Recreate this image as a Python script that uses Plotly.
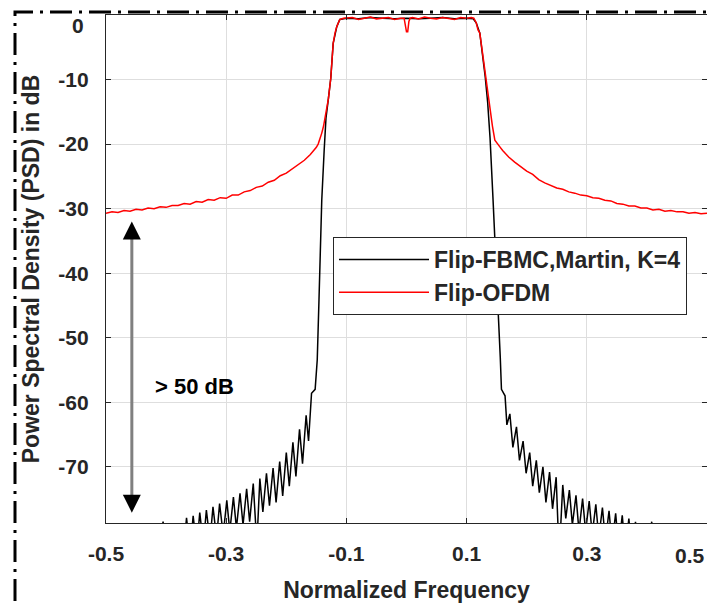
import plotly.graph_objects as go

# ---------------- data ----------------
freq_fbmc = [
    -0.50, -0.43, -0.415, -0.405, -0.398, -0.392, -0.386, -0.378, -0.372, -0.366,
    -0.360, -0.355, -0.349, -0.344, -0.338, -0.333, -0.327, -0.322, -0.316, -0.311,
    -0.305, -0.299, -0.294, -0.288, -0.283, -0.277, -0.272, -0.266, -0.261, -0.255,
    -0.249, -0.244, -0.239, -0.233, -0.228, -0.222, -0.217, -0.211, -0.206, -0.200,
    -0.195, -0.189, -0.184, -0.178, -0.173, -0.167, -0.163, -0.158, -0.152, -0.1485,
    -0.1456, -0.143, -0.141, -0.137, -0.134, -0.130, -0.126, -0.122, -0.119, -0.116,
    -0.111, -0.10, -0.08, -0.06, -0.04, -0.02, 0.0, 0.02, 0.04, 0.06, 0.08, 0.10,
    0.111, 0.116, 0.122, 0.126, 0.131, 0.135, 0.139, 0.144, 0.149, 0.153, 0.156,
    0.158, 0.161, 0.164, 0.167, 0.172, 0.177, 0.183, 0.188, 0.194, 0.199, 0.205,
    0.210, 0.216, 0.221, 0.227, 0.232, 0.238, 0.243, 0.249, 0.254, 0.260, 0.265,
    0.271, 0.276, 0.282, 0.287, 0.293, 0.298, 0.304, 0.309, 0.315, 0.320, 0.326,
    0.331, 0.337, 0.342, 0.348, 0.353, 0.359, 0.364, 0.370, 0.375, 0.381, 0.387,
    0.393, 0.400, 0.408, 0.415, 0.43, 0.50,
]
psd_fbmc = [
    -95, -90, -84, -78.5, -84, -80.5, -85, -78.9, -84, -77.9,
    -83, -77.6, -82.5, -77.1, -82, -76.7, -81.5, -76.2, -81, -75.7,
    -80.5, -75.2, -80, -74.7, -79.5, -74.1, -79, -73.4, -78.5, -72.6,
    -82, -71.8, -77, -71.0, -76, -70.2, -75.5, -69.2, -74.5, -67.8,
    -73, -66.2, -71.5, -64.2, -69.5, -62.0, -66, -58.6, -58.0, -53.4,
    -44.1, -35, -28.7, -21, -16, -13.0, -9.8, -4.4, -2.8, -1.8,
    -0.7, -0.5, -0.6, -0.4, -0.5, -0.6, -0.5, -0.6, -0.5, -0.4, -0.6, -0.5,
    -0.6, -1.2, -2.8, -5.5, -9.6, -13.5, -19, -28.6, -38, -46.7, -53,
    -58, -58.5, -59.0, -63.5, -61.8, -67, -63.8, -69, -66.0, -71, -67.8,
    -73, -69.0, -74, -70.0, -75.5, -70.8, -76.5, -71.6, -84, -72.8, -78,
    -73.6, -79, -74.4, -80, -74.9, -80, -75.3, -80.5, -75.8, -81, -76.3,
    -81.5, -76.8, -82, -77.2, -82.5, -77.5, -83, -78.0, -83.5, -78.5, -84,
    -80, -85, -78.5, -85, -90, -95,
]

freq_ofdm = [
    -0.50, -0.49, -0.48, -0.47, -0.46, -0.45, -0.44, -0.43, -0.42, -0.41,
    -0.40, -0.39, -0.38, -0.37, -0.36, -0.35, -0.34, -0.33, -0.32, -0.31,
    -0.30, -0.29, -0.28, -0.27, -0.26, -0.25, -0.24, -0.23, -0.22, -0.21,
    -0.20, -0.19, -0.18, -0.17, -0.16, -0.155, -0.150, -0.147, -0.144, -0.141,
    -0.138, -0.134, -0.130, -0.126, -0.122, -0.119, -0.116, -0.111, -0.105, -0.09,
    -0.08, -0.07, -0.06, -0.05, -0.04, -0.03, -0.02, -0.01, -0.004, -0.002,
    0.0, 0.002, 0.004, 0.006, 0.01, 0.02, 0.03, 0.04, 0.05, 0.06,
    0.07, 0.08, 0.09, 0.10, 0.108, 0.112, 0.116, 0.119, 0.122, 0.126,
    0.131, 0.135, 0.139, 0.143, 0.147, 0.152, 0.156, 0.16, 0.17, 0.18,
    0.19, 0.20, 0.21, 0.22, 0.23, 0.24, 0.25, 0.26, 0.27, 0.28,
    0.29, 0.30, 0.31, 0.32, 0.33, 0.34, 0.35, 0.36, 0.37, 0.38,
    0.39, 0.40, 0.41, 0.42, 0.43, 0.44, 0.45, 0.46, 0.47, 0.48,
    0.49, 0.50,
]
psd_ofdm = [
    -30.7, -30.5, -30.6, -30.3, -30.4, -30.1, -30.2, -29.9, -30.0, -29.7,
    -29.8, -29.5, -29.5, -29.2, -29.3, -28.9, -29.0, -28.6, -28.7, -28.3,
    -28.4, -27.9, -27.9, -27.4, -27.2, -26.7, -26.5, -25.9, -25.6, -24.9,
    -24.5, -23.8, -23.2, -22.5, -21.6, -21.1, -20.5, -20.0, -19.2, -18.3,
    -17.2, -15.2, -13.0, -9.8, -4.4, -2.8, -1.8, -0.7, -0.5, -0.4,
    -0.7, -0.5, -0.3, -0.6, -0.5, -0.4, -0.7, -0.5, -0.5, -1.5,
    -2.6, -2.6, -1.0, -0.5, -0.4, -0.6, -0.3, -0.5, -0.6, -0.4,
    -0.5, -0.7, -0.4, -0.5, -0.4, -0.5, -1.2, -2.3, -2.8, -5.5,
    -9.6, -12.3, -14.7, -17.2, -19.4, -20.1, -20.5, -21.0, -22.0, -22.8,
    -23.5, -24.2, -24.7, -25.5, -26.0, -26.4, -26.8, -27.0, -27.4, -27.6,
    -27.9, -28.0, -28.3, -28.4, -28.7, -28.8, -29.2, -29.3, -29.6, -29.6,
    -29.9, -29.9, -30.2, -30.1, -30.4, -30.3, -30.5, -30.5, -30.7, -30.6,
    -30.8, -30.7,
]

series_names = ["Flip-FBMC,Martin, K=4", "Flip-OFDM"]
x_tick_vals = [-0.5, -0.3, -0.1, 0.1, 0.3, 0.5]
x_tick_text = ["-0.5", "-0.3", "-0.1", "0.1", "0.3", ""]
y_tick_vals = [0, -10, -20, -30, -40, -50, -60, -70]
y_tick_text = ["", "-10", "-20", "-30", "-40", "-50", "-60", "-70"]
x_title = "Normalized Frequency"
y_title = "Power Spectral Density (PSD) in dB"
gap_label = "> 50 dB"
arrow_top_db = -32.0
arrow_bottom_db = -77.1
arrow_freq = -0.457

# ---------------- layout constants ----------------
W, H = 707, 603
ML, MR, MT, MB = 106, 0, 15, 80
PW, PH = W - ML - MR, H - MT - MB
FONT = "Liberation Sans, Arial, sans-serif"
TXT = "#262626"


def px_to_paper_x(px):
    return (px - ML) / PW


def px_to_paper_y(py):
    return (H - MB - py) / PH


fig = go.Figure()
fig.add_trace(go.Scatter(x=freq_fbmc, y=psd_fbmc, mode="lines", name=series_names[0],
                         line=dict(color="#000000", width=1.5)))
fig.add_trace(go.Scatter(x=freq_ofdm, y=psd_ofdm, mode="lines", name=series_names[1],
                         line=dict(color="#ff0000", width=1.5)))

axis_common = dict(
    showline=True, linecolor=TXT, linewidth=1.2, mirror="ticks",
    ticks="inside", ticklen=5, tickcolor=TXT, tickwidth=1,
    showgrid=True, gridcolor="#dedede", gridwidth=1, zeroline=False,
    tickfont=dict(family=FONT, size=21, color=TXT, weight="bold"),
    automargin=False,
)

fig.update_layout(
    width=W, height=H,
    margin=dict(l=ML, r=MR, t=MT, b=MB, pad=0),
    paper_bgcolor="white", plot_bgcolor="white",
    font=dict(family=FONT, color=TXT),
    xaxis=dict(range=[-0.5, 0.5], tickvals=x_tick_vals, ticktext=x_tick_text,
               ticklabelstandoff=12,
               title=dict(text=x_title, standoff=17,
                          font=dict(family=FONT, size=23, color=TXT, weight="bold")),
               **axis_common),
    yaxis=dict(range=[-78.7, 0], tickvals=y_tick_vals, ticktext=y_tick_text,
               ticklabelstandoff=12,
               title=dict(text=y_title, standoff=12,
                          font=dict(family=FONT, size=23, color=TXT, weight="bold")),
               **axis_common),
    legend=dict(x=px_to_paper_x(333), y=px_to_paper_y(237), xanchor="left", yanchor="top",
                bgcolor="white", bordercolor=TXT, borderwidth=1,
                font=dict(family=FONT, size=23, color=TXT, weight="bold"),
                itemwidth=90, tracegroupgap=0),
    showlegend=True,
)

# dash-dot frame (top and left edges of the figure frame)
fx, fy = px_to_paper_x(15), px_to_paper_y(12)
fig.add_shape(type="path", xref="paper", yref="paper",
              path=f"M {fx},{px_to_paper_y(640)} L {fx},{fy} L {px_to_paper_x(740)},{fy}",
              line=dict(color="black", width=3, dash="22px,7px,3px,7px"))

# double-headed arrow: grey shaft, black heads
fig.add_shape(type="line", xref="x", yref="y", x0=arrow_freq, x1=arrow_freq,
              y0=arrow_top_db - 1.5, y1=arrow_bottom_db + 1.5,
              line=dict(color="#808080", width=3))
for tip, tail in [(arrow_bottom_db, arrow_bottom_db + 2.0), (arrow_top_db, arrow_top_db - 2.0)]:
    fig.add_annotation(x=arrow_freq, y=tip, ax=arrow_freq, ay=tail, axref="x", ayref="y",
                       xref="x", yref="y", text="", showarrow=True,
                       arrowhead=2, arrowsize=1.8, arrowwidth=2, arrowcolor="black")

fig.add_annotation(x=-0.422, y=-57.6, xref="x", yref="y", text=gap_label, showarrow=False,
                   xanchor="left", yanchor="middle",
                   font=dict(family=FONT, size=22, color="#000", weight="bold"))

# shifted end labels ("0" on y, "0.5" on x) as in the reference
fig.add_annotation(x=0, y=0, xref="paper", yref="y", text="0", showarrow=False,
                   xanchor="right", yanchor="middle", xshift=-20, yshift=-10,
                   font=dict(family=FONT, size=21, color=TXT, weight="bold"))
fig.add_annotation(x=0.5, y=0, xref="x", yref="paper", text="0.5", showarrow=False,
                   xanchor="center", yanchor="middle", xshift=-17, yshift=-32,
                   font=dict(family=FONT, size=21, color=TXT, weight="bold"))

fig.write_html("out.html",
               config={"displayModeBar": False},
               post_script="document.body.style.margin='0';document.body.style.overflow='hidden';")
